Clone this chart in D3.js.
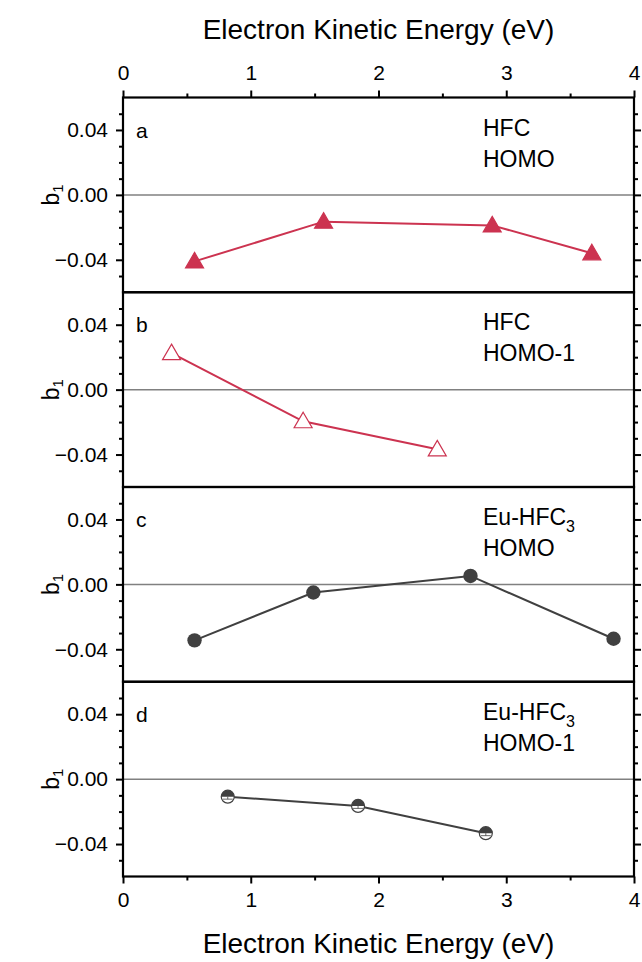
<!DOCTYPE html>
<html>
<head>
<meta charset="utf-8">
<script src="https://cdn.jsdelivr.net/npm/d3@7"></script>
<style>
  body { margin: 0; background: #fff; }
  text { font-family: "Liberation Sans", Arial, sans-serif; fill: #000; }
</style>
</head>
<body>
<svg id="chart" width="642" height="962"></svg>
<script>
// b1 anisotropy parameter vs electron kinetic energy, four stacked panels.

var xTicks = [0, 1, 2, 3, 4];
var xMinor = [0.5, 1.5, 2.5, 3.5];
var yTicks = [-0.04, 0.00, 0.04];
var yMinor = [-0.05, -0.03, -0.02, -0.01, 0.01, 0.02, 0.03, 0.05];

var panelLetters = ["a", "b", "c", "d"];
var panelMolecule = ["HFC", "HFC", "Eu-HFC", "Eu-HFC"];
var panelSub = ["", "", "3", "3"];
var panelOrbital = ["HOMO", "HOMO-1", "HOMO", "HOMO-1"];

// panel a: HFC HOMO
var eA = [0.56, 1.57, 2.89, 3.67];
var bA = [-0.041, -0.0165, -0.0188, -0.036];
// panel b: HFC HOMO-1
var eB = [0.38, 1.41, 2.46];
var bB = [0.0225, -0.0195, -0.0368];
// panel c: Eu-HFC3 HOMO
var eC = [0.56, 1.49, 2.72, 3.84];
var bC = [-0.0345, -0.005, 0.0052, -0.0335];
// panel d: Eu-HFC3 HOMO-1
var eD = [0.82, 1.84, 2.84];
var bD = [-0.0108, -0.0165, -0.0333];

var series = [
    { e: eA, b: bA, color: "#cc3350", marker: "triFilled" },
    { e: eB, b: bB, color: "#cc3350", marker: "triOpen" },
    { e: eC, b: bC, color: "#404040", marker: "circle" },
    { e: eD, b: bD, color: "#404040", marker: "halfCircle" }
];

var plotLeft = 123, plotRight = 634, plotTop = 97.5, panelH = 194.75;

var svg = d3.select("#chart");

var x = d3.scaleLinear().domain([0, 4]).range([plotLeft, plotRight]);
var y = d3.scaleLinear().domain([-0.06, 0.06]).range([panelH, 0]);

function styleAxis(g) {
    g.attr("font-size", null).attr("font-family", null);
    g.select(".domain").remove();
    g.selectAll(".tick line").attr("stroke", "#000").attr("stroke-width", 2);
    g.selectAll(".tick text").style("font-size", "21px");
}

series.forEach(function (s, i) {
    var g = svg.append("g").attr("transform", "translate(0," + (plotTop + i * panelH) + ")");

    // zero line
    g.append("line")
        .attr("x1", plotLeft).attr("x2", plotRight)
        .attr("y1", y(0)).attr("y2", y(0))
        .attr("stroke", "#808080").attr("stroke-width", 1.5);

    // left axis with labels
    g.append("g").attr("transform", "translate(" + plotLeft + ",0)")
        .call(d3.axisLeft(y).tickValues(yTicks).tickSize(7).tickPadding(8).tickFormat(d3.format(".2f")))
        .call(styleAxis);
    g.append("g").attr("transform", "translate(" + plotLeft + ",0)")
        .call(d3.axisLeft(y).tickValues(yMinor).tickSize(4).tickFormat(""))
        .call(styleAxis);
    // right axis, no labels
    g.append("g").attr("transform", "translate(" + plotRight + ",0)")
        .call(d3.axisRight(y).tickValues(yTicks).tickSize(7).tickFormat(""))
        .call(styleAxis);
    g.append("g").attr("transform", "translate(" + plotRight + ",0)")
        .call(d3.axisRight(y).tickValues(yMinor).tickSize(4).tickFormat(""))
        .call(styleAxis);

    // y title b1
    var yt = g.append("text")
        .attr("transform", "translate(59," + y(0) + ") rotate(-90)")
        .attr("text-anchor", "middle")
        .style("font-size", "23px");
    yt.append("tspan").text("b");
    yt.append("tspan").attr("dy", 4).style("font-size", "15px").text("1");

    // panel letter
    g.append("text").attr("x", 136).attr("y", 40)
        .style("font-size", "21px").text(panelLetters[i]);

    // label
    var lab = g.append("text").attr("x", 483).attr("y", 38).style("font-size", "23px");
    lab.append("tspan").text(panelMolecule[i]);
    if (panelSub[i]) lab.append("tspan").attr("dy", 7).style("font-size", "16px").text(panelSub[i]);
    g.append("text").attr("x", 483).attr("y", 69).style("font-size", "23px").text(panelOrbital[i]);

    // line
    var pts = s.e.map(function (d, k) { return [x(d), y(s.b[k])]; });
    g.append("path")
        .attr("d", d3.line()(pts))
        .attr("fill", "none").attr("stroke", s.color).attr("stroke-width", 2);

    // markers
    var m = g.selectAll(".pt").data(pts).enter().append("g")
        .attr("transform", function (p) { return "translate(" + p[0] + "," + p[1] + ")"; });
    if (s.marker === "triFilled" || s.marker === "triOpen") {
        m.append("path")
            .attr("d", "M0,-9 L9,6.5 L-9,6.5 Z")
            .attr("fill", s.marker === "triFilled" ? s.color : "#fff")
            .attr("stroke", s.color).attr("stroke-width", 1.2);
    } else if (s.marker === "circle") {
        m.append("circle").attr("r", 7.2).attr("fill", s.color);
    } else {
        m.append("circle").attr("r", 6.5).attr("fill", "#fff")
            .attr("stroke", s.color).attr("stroke-width", 1.2);
        m.append("path").attr("d", "M-6.5,0 A6.5,6.5 0 0 1 6.5,0 Z").attr("fill", s.color);
        m.append("line").attr("x1", -5).attr("x2", 5).attr("y1", 2.5).attr("y2", 2.5)
            .attr("stroke", s.color).attr("stroke-width", 0.8);
        m.append("line").attr("x1", 0).attr("x2", 0).attr("y1", 0).attr("y2", 2.5)
            .attr("stroke", s.color).attr("stroke-width", 0.8);
    }

    // frame
    g.append("rect")
        .attr("x", plotLeft).attr("y", 0)
        .attr("width", plotRight - plotLeft).attr("height", panelH)
        .attr("fill", "none").attr("stroke", "#000").attr("stroke-width", 2.2);
});

// top axis
var bottomY = plotTop + 4 * panelH;
svg.append("g").attr("transform", "translate(0," + plotTop + ")")
    .call(d3.axisTop(x).tickValues(xTicks).tickSize(7).tickPadding(11).tickFormat(d3.format("d")))
    .call(styleAxis);
svg.append("g").attr("transform", "translate(0," + plotTop + ")")
    .call(d3.axisTop(x).tickValues(xMinor).tickSize(4).tickFormat(""))
    .call(styleAxis);
// bottom axis
svg.append("g").attr("transform", "translate(0," + bottomY + ")")
    .call(d3.axisBottom(x).tickValues(xTicks).tickSize(7).tickPadding(9).tickFormat(d3.format("d")))
    .call(styleAxis);
svg.append("g").attr("transform", "translate(0," + bottomY + ")")
    .call(d3.axisBottom(x).tickValues(xMinor).tickSize(4).tickFormat(""))
    .call(styleAxis);

svg.append("text").attr("x", (plotLeft + plotRight) / 2).attr("y", 39)
    .attr("text-anchor", "middle").style("font-size", "28px")
    .text("Electron Kinetic Energy (eV)");
svg.append("text").attr("x", (plotLeft + plotRight) / 2).attr("y", 953)
    .attr("text-anchor", "middle").style("font-size", "28px")
    .text("Electron Kinetic Energy (eV)");
</script>
</body>
</html>
